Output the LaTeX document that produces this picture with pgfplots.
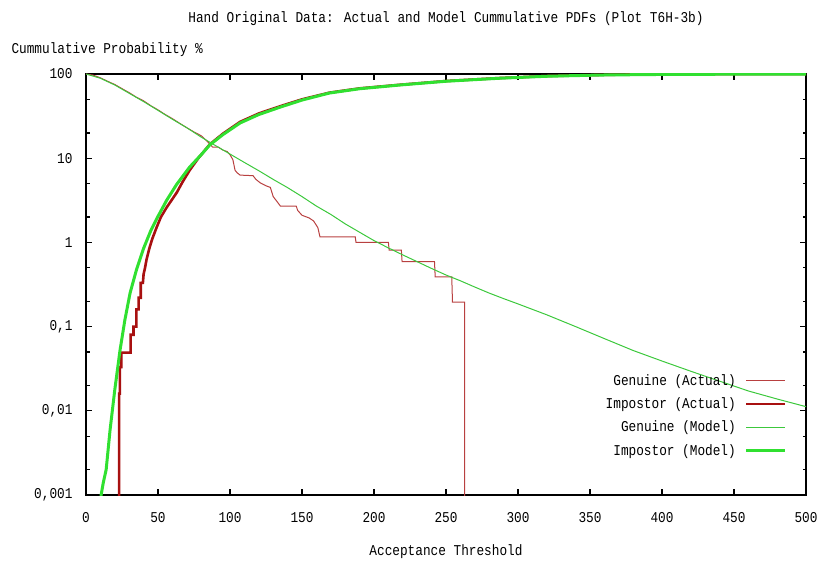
\documentclass[border=0pt]{standalone}
\usepackage{fontspec}
\usepackage{pgfplots}
\pgfplotsset{compat=1.18}
\newfontfamily\gnu[FakeStretch=0.85]{Liberation Mono}
\newcommand{\gnuf}{\gnu\fontsize{15bp}{17bp}\selectfont}
\definecolor{genA}{RGB}{184,64,64}
\definecolor{impA}{RGB}{168,16,16}
\definecolor{genM}{RGB}{60,200,60}
\definecolor{impM}{RGB}{48,224,48}
\begin{document}
\begin{tikzpicture}
\begin{axis}[
  scale only axis,
  width=720bp, height=421bp,
  xmin=0, xmax=500,
  ymode=log, ymin=0.001, ymax=100,
  xtick={0,50,...,500},
  ytick={0.001,0.01,0.1,1,10,100},
  yticklabels={{0,001},{0,01},{0,1},1,10,100},
  minor ytick={0.002,0.005,0.02,0.05,0.2,0.5,2,5,20,50},
  tick align=inside,
  major tick length=6bp, minor tick length=3.5bp,
  every tick/.style={black, line width=1.3bp},
  axis line style={line width=1.6bp},
  /pgf/number format/assume math mode=true,
  tick label style={font=\gnuf},
  xticklabel style={anchor=base, yshift=-27bp},
  yticklabel style={anchor=east, xshift=-10bp},
  title={Hand Original Data: Actual and Model Cummulative PDFs (Plot T6H-3b)},
  title style={font=\gnuf, at={(0.5,1)}, anchor=base, yshift=46bp},
  xlabel={Acceptance Threshold},
  xlabel style={font=\gnuf, at={(0.5,0)}, anchor=base, yshift=-60bp},
  ylabel={Cummulative Probability \%},
  ylabel style={font=\gnuf, rotate=-90, at={(0,1)}, anchor=base west, xshift=-78bp, yshift=20bp},
  legend plot pos=right,
  legend cell align=right,
  legend style={at={(1,0)}, anchor=south east, xshift=-16bp, yshift=35bp,
    draw=none, fill=none, font=\gnuf, row sep=9bp, nodes={inner sep=1bp}},
  legend image code/.code={\path (0bp,0bp); \draw[#1] (8bp,0bp) -- (47bp,0bp);},
]
% Genuine (Actual)
\addplot[genA, line width=1bp] coordinates {
(0,100) (5,97) (10,90) (15,82) (20,75) (25,67) (30,60) (35,53) (40,48) (45,42)
(50,37.5) (55,33) (60,29.5) (65,26) (70,23) (75,20.5) (80,18.5) (84,16) (88,13.5)
(92,13.5) (95,12.5) (98,12.0) (100,11) (102,9.6) (103.5,7.2) (105,6.7) (107,6.3)
(116,6.2) (118,5.6) (121,5.1) (125,4.7) (128,4.5) (130,3.5) (133,3.0) (135,2.7)
(146,2.7) (147,2.4) (150,2.1) (155,1.95) (158,1.8) (161,1.5) (162.5,1.16)
(187,1.16) (187.5,1.0) (210,1.0) (210.5,0.81) (219,0.81) (219.5,0.59) (242,0.59)
(242.5,0.39) (254,0.39) (254.5,0.195) (263,0.195) (263,0.0005)
};
\addlegendentry{Genuine (Actual)}
% Impostor (Actual)
\addplot[impA, line width=2.6bp] coordinates {
(23,0.0005) (23,0.016) (23.5,0.016) (23.5,0.033) (24.5,0.033) (24.5,0.049)
(31,0.049) (31,0.08) (33,0.08) (33,0.1) (35,0.1) (35,0.16) (36.5,0.16)
(36.5,0.22) (38,0.22) (38,0.33) (39.5,0.33) (40,0.42) (41,0.5) (42,0.62)
(44,0.85) (46,1.1) (49,1.5) (52,2.0) (56,2.6) (63,3.9) (67,5.2) (72,7.2)
(78,10) (86,14.6) (95,19.5) (107,27) (120,34) (135,41.5) (150,50) (169,60)
(190,67.5) (218,74.5) (250,82.5) (287,89.5) (320,94.5) (357,97.5) (380,98.8)
(400,100) (500,100)
};
\addlegendentry{Impostor (Actual)}
% Genuine (Model)
\addplot[genM, line width=1bp] coordinates {
(0,100) (10,89) (20,74) (30,59) (40,47) (50,37) (60,29) (70,23) (80,17.8)
(90,14.1) (100,11.2) (110,8.9) (120,7.1) (130,5.6) (140,4.47) (150,3.5)
(160,2.7) (170,2.15) (180,1.66) (190,1.32) (200,1.05) (210,0.86) (220,0.71)
(230,0.59) (240,0.49) (250,0.41) (260,0.35) (270,0.295) (280,0.25) (290,0.215)
(300,0.186) (320,0.138) (340,0.10) (360,0.072) (380,0.052) (400,0.039)
(420,0.0295) (440,0.0225) (460,0.0172) (480,0.0138) (500,0.0112)
};
\addlegendentry{Genuine (Model)}
% Impostor (Model)
\addplot[impM, line width=3bp] coordinates {
(10,0.0005) (10.5,0.001) (12,0.0014) (14,0.002) (16.7,0.0059) (20,0.0178)
(23.6,0.052) (27,0.12) (30.6,0.25) (35,0.47) (40,0.85) (45,1.38) (50,2.04)
(56,3.16) (63,4.9) (72,7.85) (80,11) (86,14.4) (95,19) (107,26.2) (120,33)
(135,40.5) (150,49) (169,59.4) (190,66.8) (218,74) (250,82) (287,89) (320,94)
(357,97.2) (400,98.8) (450,99.5) (500,99.8)
};
\addlegendentry{Impostor (Model)}
\end{axis}
\pgfresetboundingbox
\path[use as bounding box] ([xshift=-86bp,yshift=-68bp]current axis.south west) rectangle ([xshift=22bp,yshift=74bp]current axis.north east);
\end{tikzpicture}
\end{document}
